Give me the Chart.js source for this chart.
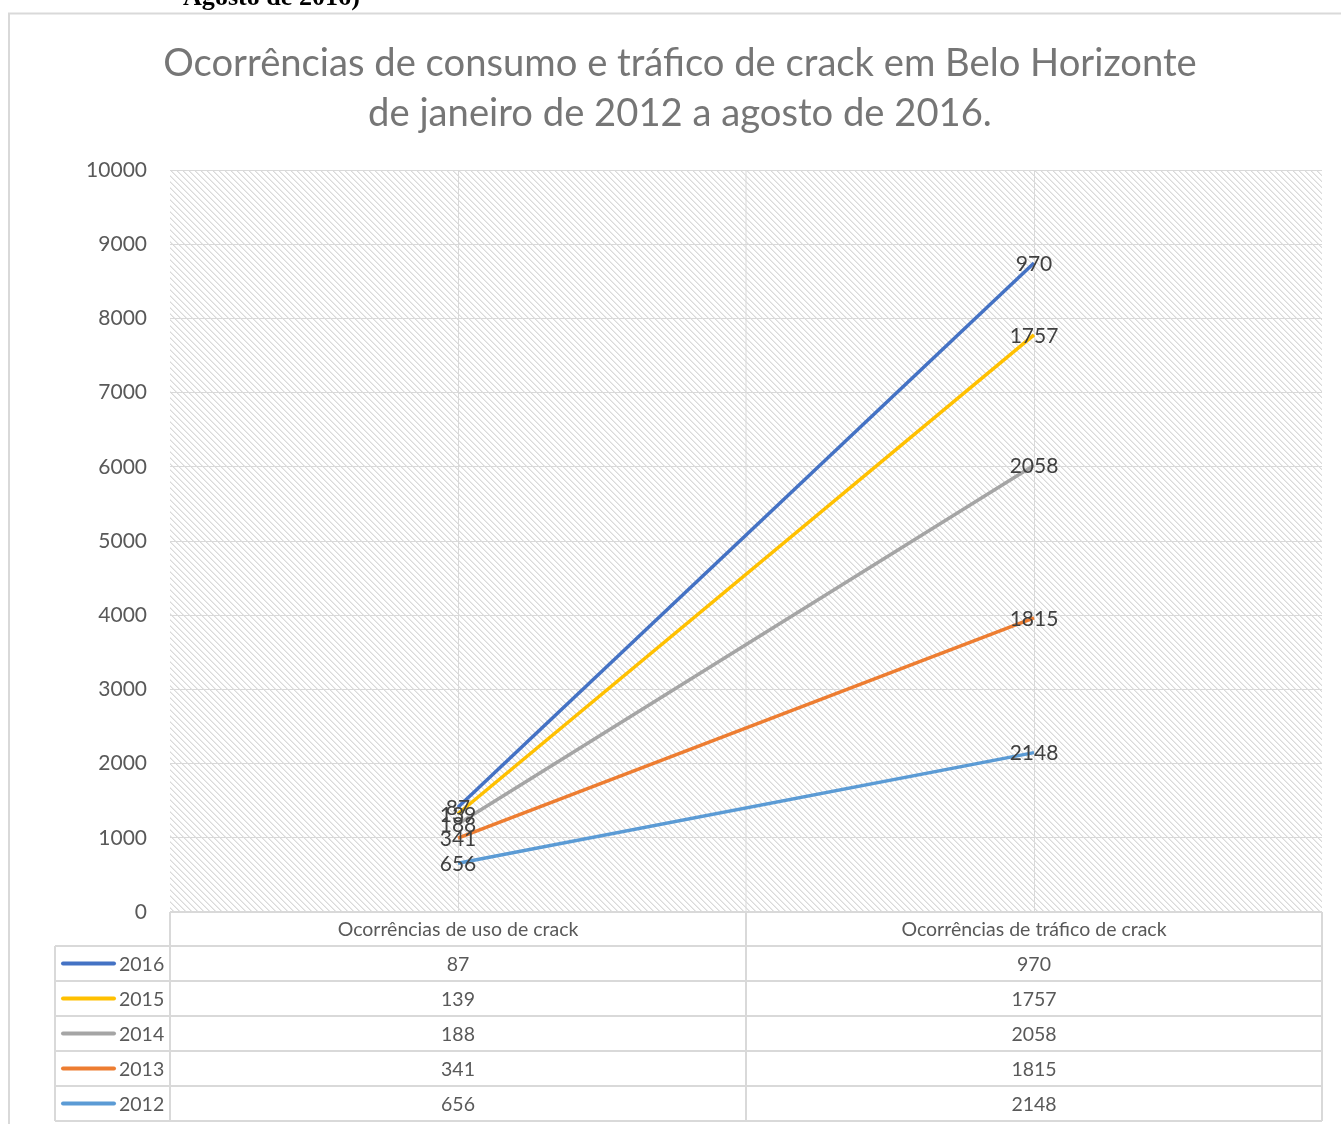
<!DOCTYPE html>
<html><head><meta charset="utf-8">
<script src="https://cdn.jsdelivr.net/npm/chart.js@4.4.0/dist/chart.umd.min.js"></script>
<style>html,body{margin:0;padding:0;background:#fff}#wrap{position:relative;width:1341px;height:1124px}canvas{display:block}</style>
</head><body><div id="wrap"><canvas id="c" width="1341" height="1124"></canvas></div>
<script>
// ---- data ----
const categories = ['Ocorrências de uso de crack', 'Ocorrências de tráfico de crack'];
const seriesNames = ['2016', '2015', '2014', '2013', '2012'];
const usoValues = [87, 139, 188, 341, 656];
const traficoValues = [970, 1757, 2058, 1815, 2148];
const yMin = 0, yMax = 10000, yStep = 1000;
const titleLines = ['Ocorrências de consumo e tráfico de crack em Belo Horizonte', 'de janeiro de 2012 a agosto de 2016.'];
const cutHeaderText = 'Agosto de 2016)';

// ---- style ----
const seriesColors = ['#4472C4', '#FFC000', '#A5A5A5', '#ED7D31', '#5B9BD5'];
const FONT = 'Lato, "Open Sans", sans-serif';
const gridColor = '#d9d9d9';

// datasets: stack bottom first (2012 ... 2016)
const datasets = [];
for (let i = seriesNames.length - 1; i >= 0; i--) {
  datasets.push({
    label: seriesNames[i],
    data: [usoValues[i], traficoValues[i]],
    borderColor: seriesColors[i],
    backgroundColor: seriesColors[i],
    borderWidth: 3.5,
    pointRadius: 0,
    fill: false,
    tension: 0
  });
}

function makeHatch(ctx) {
  const n = 6;
  const t = document.createElement('canvas');
  t.width = n; t.height = n;
  const g = t.getContext('2d');
  g.fillStyle = '#ffffff'; g.fillRect(0, 0, n, n);
  for (let i = 0; i < n; i++) {
    g.fillStyle = '#dadada';
    g.fillRect(i, i, 1, 1);
    g.fillStyle = '#ebebeb';
    g.fillRect((i + 1) % n, i, 1, 1);
  }
  return ctx.createPattern(t, 'repeat');
}

const deco = {
  id: 'deco',
  beforeDraw(chart) {
    const ctx = chart.ctx, ca = chart.chartArea;
    ctx.save();
    ctx.fillStyle = '#fff';
    ctx.fillRect(0, 0, chart.width, chart.height);
    // cut header text
    ctx.fillStyle = '#000';
    let fs = 24;
    ctx.font = 'bold ' + fs + 'px "Liberation Serif", serif';
    let w = ctx.measureText(cutHeaderText).width;
    fs = fs * 177 / w;
    ctx.font = 'bold ' + fs.toFixed(1) + 'px "Liberation Serif", serif';
    ctx.textBaseline = 'alphabetic';
    ctx.textAlign = 'left';
    ctx.fillText(cutHeaderText, 183, 5);
    // frame
    ctx.strokeStyle = gridColor;
    ctx.lineWidth = 2;
    ctx.beginPath();
    ctx.moveTo(9, chart.height + 5);
    ctx.lineTo(9, 13.5);
    ctx.lineTo(chart.width + 5, 13.5);
    ctx.stroke();
    // title
    ctx.fillStyle = '#767676';
    let ts = 36;
    ctx.font = ts + 'px ' + FONT;
    w = ctx.measureText(titleLines[0]).width;
    ts = ts * 1034 / w;
    ctx.font = ts.toFixed(1) + 'px ' + FONT;
    ctx.textAlign = 'center';
    ctx.fillText(titleLines[0], 680, 76);
    ctx.fillText(titleLines[1], 680, 126);
    // hatch
    ctx.fillStyle = makeHatch(ctx);
    ctx.fillRect(ca.left, ca.top, ca.right - ca.left, ca.bottom - ca.top);
    ctx.restore();
  },
  beforeDatasetsDraw(chart) {
    const ctx = chart.ctx, ca = chart.chartArea, xs = chart.scales.x;
    const mid = (xs.getPixelForValue(0) + xs.getPixelForValue(1)) / 2;
    ctx.save();
    ctx.strokeStyle = gridColor; ctx.lineWidth = 1;
    ctx.beginPath(); ctx.moveTo(mid, ca.top); ctx.lineTo(mid, ca.bottom); ctx.stroke();
    ctx.restore();
  },
  afterDatasetsDraw(chart) {
    const ctx = chart.ctx;
    ctx.save();
    ctx.font = '21px ' + FONT;
    ctx.fillStyle = '#404040';
    ctx.textAlign = 'center';
    ctx.textBaseline = 'middle';
    chart.data.datasets.forEach((ds, di) => {
      const meta = chart.getDatasetMeta(di);
      meta.data.forEach((pt, j) => {
        ctx.fillText(String(ds.data[j]), pt.x, pt.y + 1);
      });
    });
    ctx.restore();
  },
  afterDraw(chart) {
    const ctx = chart.ctx, ca = chart.chartArea, xs = chart.scales.x;
    const mid = (xs.getPixelForValue(0) + xs.getPixelForValue(1)) / 2;
    const legL = 55, headTop = ca.bottom, rowTop = 946, rowH = 35;
    const n = seriesNames.length;
    const bottom = rowTop + rowH * n;
    ctx.save();
    ctx.strokeStyle = gridColor;
    ctx.lineWidth = 2;
    ctx.beginPath();
    ctx.moveTo(ca.left, headTop); ctx.lineTo(ca.right, headTop);
    for (let r = 0; r <= n; r++) {
      const y = rowTop + r * rowH;
      ctx.moveTo(legL, y); ctx.lineTo(ca.right, y);
    }
    ctx.moveTo(legL, rowTop); ctx.lineTo(legL, bottom);
    ctx.moveTo(ca.left, headTop); ctx.lineTo(ca.left, bottom);
    ctx.moveTo(mid, headTop); ctx.lineTo(mid, bottom);
    ctx.moveTo(ca.right, headTop); ctx.lineTo(ca.right, bottom);
    ctx.stroke();
    // header text
    ctx.font = '19.5px ' + FONT;
    ctx.fillStyle = '#595959';
    ctx.textAlign = 'center';
    ctx.textBaseline = 'middle';
    categories.forEach((c, j) => {
      ctx.fillText(c, xs.getPixelForValue(j), (headTop + rowTop) / 2 + 1);
    });
    for (let r = 0; r < n; r++) {
      const yc = rowTop + r * rowH + rowH / 2 + 1;
      ctx.fillStyle = '#595959';
      ctx.textAlign = 'center';
      ctx.fillText(String(usoValues[r]), xs.getPixelForValue(0), yc);
      ctx.fillText(String(traficoValues[r]), xs.getPixelForValue(1), yc);
      ctx.textAlign = 'left';
      ctx.fillText(seriesNames[r], 119, yc);
      ctx.strokeStyle = seriesColors[r];
      ctx.lineWidth = 4;
      ctx.lineCap = 'round';
      ctx.beginPath(); ctx.moveTo(63, yc - 1); ctx.lineTo(114, yc - 1); ctx.stroke();
    }
    ctx.restore();
  }
};

new Chart(document.getElementById('c'), {
  type: 'line',
  data: { labels: categories, datasets },
  options: {
    responsive: false,
    animation: false,
    devicePixelRatio: 1,
    layout: { padding: { left: 0, top: 170, right: 19, bottom: 212 } },
    plugins: { legend: { display: false }, tooltip: { enabled: false }, title: { display: false } },
    scales: {
      x: {
        type: 'category',
        offset: true,
        grid: { color: gridColor, drawTicks: false, offset: false, lineWidth: 1 },
        border: { display: false },
        ticks: { display: false },
        afterFit: s => { s.height = 0; }
      },
      y: {
        stacked: true,
        min: yMin, max: yMax,
        ticks: { stepSize: yStep, padding: 23, color: '#595959', font: { family: FONT, size: 21 }, callback: v => String(v) },
        grid: { color: gridColor, drawTicks: false, lineWidth: 1 },
        border: { display: false },
        afterFit: s => { s.width = 170; }
      }
    }
  },
  plugins: [deco]
});
</script>
</body></html>
